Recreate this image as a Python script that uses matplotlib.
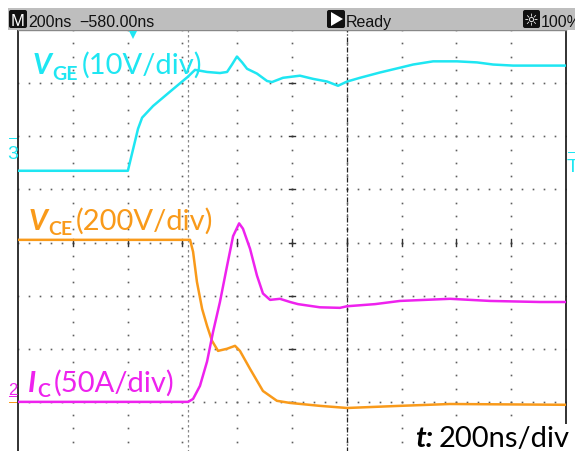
import numpy as np
import matplotlib
matplotlib.use('Agg')
import matplotlib.pyplot as plt
from matplotlib.patches import Rectangle, FancyBboxPatch, Polygon
from matplotlib.transforms import IdentityTransform

# ---------------- screen settings ----------------
time_per_div = 200          # ns / div
n_xdiv, n_ydiv = 10, 8
vge_scale, vce_scale, ic_scale = 10, 200, 50     # V/div, V/div, A/div
vge_offset, vce_offset, ic_offset = 5.85, 1.0, 1.0  # ground position (div from bottom)
trigger_t = 420             # ns from left edge
cursor_t = [620, 1200]      # ns

# ---------------- waveforms ----------------
vge_t = [0, 401, 438, 453, 493, 555, 599, 620, 646, 690, 737, 763, 781, 799, 818,
         836, 872, 909, 927, 967, 1029, 1077, 1128, 1168, 1201, 1248, 1321, 1394,
         1442, 1515, 1602, 1675, 1734, 1807, 2000]
vge_v = [-5.0, -5.0, 2.9, 5.0, 7.2, 9.9, 11.8, 12.7, 14.0, 13.6, 13.4, 13.6, 15.0,
         16.5, 15.4, 14.2, 13.3, 11.9, 11.7, 12.5, 12.9, 12.3, 11.8, 11.0, 11.8,
         12.5, 13.5, 14.4, 15.0, 15.6, 15.6, 15.4, 15.0, 14.8, 14.8]

vce_t = [0, 628, 639, 653, 672, 690, 708, 730, 763, 792, 810, 847, 894, 945, 993,
         1102, 1201, 1394, 1577, 2000]
vce_v = [610, 610, 565, 452, 350, 286, 230, 192, 200, 211, 192, 124, 41, 4, -4,
         -15, -23, -15, -8, -11]

ic_t = [0, 621, 639, 664, 690, 712, 737, 763, 785, 807, 821, 847, 872, 894, 920,
        956, 993, 1022, 1102, 1175, 1201, 1303, 1394, 1577, 1723, 1905, 2000]
ic_a = [0, 0, 2.8, 15, 38, 66, 94, 128, 156, 168, 163, 144, 119, 102, 96, 97, 94,
        92, 89, 88.5, 90, 92, 95, 97, 95, 94, 94]

header_scale = "200ns"
header_delay = "\u2212580.00ns"
header_state = "Ready"
header_bright = "100%"
label_vge = ("V", "GE", "(10V/div)")
label_vce = ("V", "CE", "(200V/div)")
label_ic = ("I", "C", "(50A/div)")
label_t = ("t:", "200ns/div")

CYAN = '#1ee6f2'
ORANGE = '#f99a1a'
MAGENTA = '#ee22ee'

W, H = 575, 452
fig = plt.figure(figsize=(W / 100, H / 100), dpi=100)
fig.patch.set_facecolor('white')

# main screen axes (pixel box x 18..566, y 31..456)
ax = fig.add_axes([18 / W, (H - 456) / H, 548 / W, 425 / H])
ax.set_xlim(0, n_xdiv * time_per_div)
ax.set_ylim(0, n_ydiv)
ax.set_xticks([]); ax.set_yticks([])
for s in ['left', 'right']:
    ax.spines[s].set_color('#222222'); ax.spines[s].set_linewidth(1.3)
ax.spines['top'].set_color('#888888'); ax.spines['top'].set_linewidth(1.0)
ax.spines['bottom'].set_color('#222222')

# graticule dots
dot_kw = dict(linestyle='none', marker='s', markersize=1.2, color='#5e5e5e',
              markeredgewidth=0, zorder=1)
xs_minor = np.arange(0, n_xdiv * time_per_div + 1, time_per_div / 5)
for k in range(1, n_ydiv):
    ax.plot(xs_minor, np.full_like(xs_minor, k, dtype=float), **dot_kw)
ys_minor = np.arange(0, n_ydiv + 0.01, 0.25)
for j in range(1, n_xdiv):
    ax.plot(np.full_like(ys_minor, j * time_per_div, dtype=float), ys_minor, **dot_kw)
# centre cross ticks
xc = n_xdiv / 2 * time_per_div
for k in range(1, n_ydiv):
    ax.plot([xc - 12, xc + 12], [k, k], color='#333333', lw=1.0, zorder=1)
for j in range(1, n_xdiv):
    ax.plot([j * time_per_div] * 2, [n_ydiv / 2 - 0.06, n_ydiv / 2 + 0.06],
            color='#333333', lw=1.0, zorder=1)

# cursors
ax.axvline(cursor_t[0], color='#8a8a8a', lw=0.9, linestyle=(0, (2, 2)), zorder=1)
ax.axvline(cursor_t[1], color='#222222', lw=0.9, linestyle=(0, (4, 1.5, 1, 1.5)), zorder=1)

# traces
LW = 1.8
ax.plot(vce_t, np.array(vce_v) / vce_scale + vce_offset, color=ORANGE, lw=LW, zorder=3)
ax.plot(ic_t, np.array(ic_a) / ic_scale + ic_offset, color=MAGENTA, lw=LW, zorder=4)
ax.plot(vge_t, np.array(vge_v) / vge_scale + vge_offset, color=CYAN, lw=LW, zorder=4)

# trigger position marker
ax.plot([trigger_t], [n_ydiv - 0.09], marker='v', color=CYAN, markersize=6,
        markeredgewidth=0, clip_on=False, zorder=5)

ID = IdentityTransform()


def ftext(x, y, s, **kw):
    return fig.text(x, H - y, s, transform=ID, **kw)


def add_rect(x0, y0, x1, y1, **kw):
    p = Rectangle((x0, H - y1), x1 - x0, y1 - y0, transform=ID, **kw)
    fig.add_artist(p)
    return p


renderer = fig.canvas.get_renderer()
HFONT = ['Liberation Sans', 'DejaVu Sans']

# header bar
add_rect(8, 9, 575, 31, facecolor='#bebebe', edgecolor='none', zorder=2)
for (x0, x1) in [(9, 27), (327, 345), (523, 540)]:
    b = FancyBboxPatch((x0, H - 29), x1 - x0, 18, boxstyle='round,pad=0,rounding_size=2',
                       transform=ID, facecolor='#111111', edgecolor='none', zorder=3)
    fig.add_artist(b)
ftext(18, 26.5, "M", color='white', fontsize=12, family=HFONT, ha='center',
      va='baseline', zorder=4)
tri = Polygon([(331, H - 13), (331, H - 27), (343, H - 20)], closed=True,
              transform=ID, facecolor='white', edgecolor='none', zorder=4)
fig.add_artist(tri)
ftext(531.5, 26, "\u263c", color='white', fontsize=12, family=['DejaVu Sans'],
      ha='center', va='baseline', zorder=4)
hkw = dict(color='#111111', fontsize=11.5, family=HFONT, va='baseline', zorder=4)
ftext(28, 27, header_scale, **hkw)
ftext(79, 27, header_delay, **hkw)
ftext(346, 27, header_state, **hkw)
ftext(541, 27, header_bright, **hkw)

# channel ground markers
add_rect(9, 138.5, 17, 140, facecolor=CYAN, edgecolor='none', zorder=4)
ftext(13, 159, "3", color=CYAN, fontsize=14, family=HFONT, ha='center',
      va='baseline', zorder=4)
ftext(13, 395, "2", color=MAGENTA, fontsize=12, family=HFONT, ha='center',
      va='baseline', zorder=4)
add_rect(9, 396.5, 17, 398, facecolor=MAGENTA, edgecolor='none', zorder=4)
add_rect(9, 402.5, 17, 404, facecolor=ORANGE, edgecolor='none', zorder=4)
# trigger level marker on the right
add_rect(568, 152.5, 575, 154, facecolor=CYAN, edgecolor='none', zorder=4)
ftext(567, 172, "T", color=CYAN, fontsize=14, family=HFONT, ha='left',
      va='baseline', zorder=4)

LATO = ['Lato', 'DejaVu Sans']


def rich(x, y, pieces, color, bg=False):
    cur = x
    for s, size, weight, style, dy, gap in pieces:
        cur += gap
        kw = dict(color=color, fontsize=size, fontweight=weight, fontstyle=style,
                  family=LATO, va='baseline', ha='left', zorder=6)
        if bg:
            kw['bbox'] = dict(facecolor='white', edgecolor='none', pad=0.5)
        t = ftext(cur, y + dy, s, **kw)
        bb = t.get_window_extent(renderer)
        cur = bb.x1


BIG = 21
SUB = 14
rich(33, 74, [(label_vge[0], BIG, 'bold', 'italic', 0, 0),
              (label_vge[1], SUB, 'bold', 'normal', 6, 0),
              (label_vge[2], BIG, 'normal', 'normal', 0, 4)], CYAN)
rich(29, 230, [(label_vce[0], BIG, 'bold', 'italic', 0, 0),
               (label_vce[1], SUB, 'bold', 'normal', 5, 0),
               (label_vce[2], BIG, 'normal', 'normal', 0, 4)], ORANGE)
rich(28, 392, [(label_ic[0], BIG, 'bold', 'italic', 0, 0),
               (label_ic[1], SUB, 'bold', 'normal', 5, 1),
               (label_ic[2], BIG, 'normal', 'normal', 0, 4)], MAGENTA)
rich(415, 447, [(label_t[0], BIG, 'bold', 'italic', 0, 0),
                (label_t[1], BIG, 'normal', 'normal', 0, 5)], 'black', bg=True)

fig.savefig('out.png', dpi=100, facecolor='white')
